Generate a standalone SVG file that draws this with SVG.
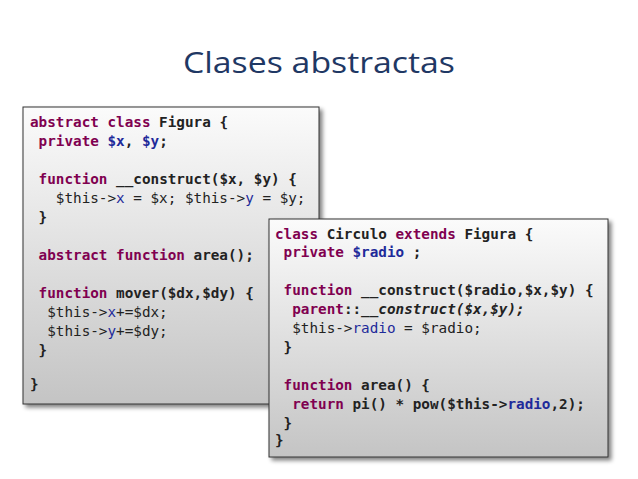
<svg xmlns="http://www.w3.org/2000/svg" width="638" height="479" viewBox="0 0 638 479">
<defs>
<linearGradient id="g" x1="0" y1="0" x2="0" y2="1"><stop offset="0" stop-color="#fbfbfb"/><stop offset="1" stop-color="#c4c4c4"/></linearGradient>
<filter id="sh" x="-5%" y="-5%" width="115%" height="115%"><feGaussianBlur in="SourceAlpha" stdDeviation="2"/><feOffset dx="3" dy="3"/><feComponentTransfer><feFuncA type="linear" slope="0.5"/></feComponentTransfer><feMerge><feMergeNode/><feMergeNode in="SourceGraphic"/></feMerge></filter>
</defs>
<style>
.box{fill:url(#g);stroke:#333;stroke-width:1}
.c{font-family:"DejaVu Sans Mono","Liberation Mono",monospace;font-size:14.3px;fill:#222;font-weight:bold}
.k{fill:#800050}
.v{fill:#1e2a9a}
.n{font-weight:normal}
.i{font-style:italic}
</style>
<rect width="638" height="479" fill="#fff"/>
<text x="319" y="73" text-anchor="middle" font-family="Open Sans, sans-serif" font-size="30" fill="#1f3864" textLength="272" lengthAdjust="spacingAndGlyphs">Clases abstractas</text>
<g id="figura">
<rect class="box" x="23" y="107" width="296" height="297" filter="url(#sh)"/>
<text class="c" xml:space="preserve"><tspan x="30" y="127"><tspan class="k">abstract class</tspan> Figura {</tspan><tspan x="30" y="146"> <tspan class="k">private</tspan> <tspan class="v">$x</tspan>, <tspan class="v">$y</tspan>;</tspan><tspan x="30" y="184"> <tspan class="k">function</tspan> __construct($x, $y) {</tspan><tspan x="30" y="203" class="n">   $this-&gt;<tspan class="v">x</tspan> = $x; $this-&gt;<tspan class="v">y</tspan> = $y;</tspan><tspan x="30" y="222"> }</tspan><tspan x="30" y="260"> <tspan class="k">abstract function</tspan> area();</tspan><tspan x="30" y="298"> <tspan class="k">function</tspan> mover($dx,$dy) {</tspan><tspan x="30" y="317" class="n">  $this-&gt;<tspan class="v">x</tspan>+=$dx;</tspan><tspan x="30" y="336" class="n">  $this-&gt;<tspan class="v">y</tspan>+=$dy;</tspan><tspan x="30" y="355"> }</tspan><tspan x="30" y="389">}</tspan></text>
</g>
<g id="circulo">
<rect class="box" x="269" y="219" width="339" height="238" filter="url(#sh)"/>
<text class="c" xml:space="preserve"><tspan x="275" y="239"><tspan class="k">class</tspan> Circulo <tspan class="k">extends</tspan> Figura {</tspan><tspan x="275" y="257"> <tspan class="k">private</tspan> <tspan class="v">$radio</tspan> ;</tspan><tspan x="275" y="295"> <tspan class="k">function</tspan> __construct($radio,$x,$y) {</tspan><tspan x="275" y="314">  <tspan class="k">parent</tspan>::<tspan class="i">__construct($x,$y);</tspan></tspan><tspan x="275" y="333" class="n">  $this-&gt;<tspan class="v">radio</tspan> = $radio;</tspan><tspan x="275" y="352"> }</tspan><tspan x="275" y="390"> <tspan class="k">function</tspan> area() {</tspan><tspan x="275" y="409">  <tspan class="k">return</tspan> pi() * pow($this-&gt;<tspan class="v">radio</tspan>,2);</tspan><tspan x="275" y="428"> }</tspan><tspan x="275" y="445">}</tspan></text>
</g>
<g id="connectors"/>
</svg>
